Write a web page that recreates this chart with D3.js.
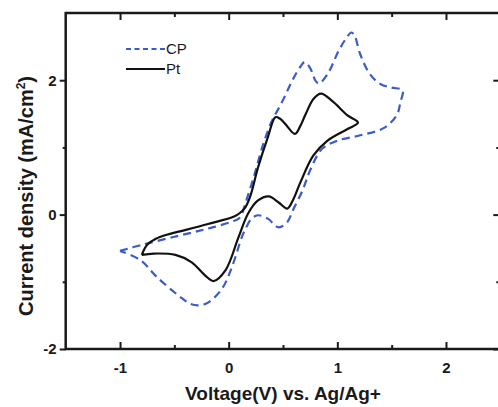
<!DOCTYPE html>
<html>
<head>
<meta charset="utf-8">
<script src="https://cdn.jsdelivr.net/npm/d3@7"></script>
<style>
  html, body { margin: 0; padding: 0; background: #fff; }
  svg { display: block; font-family: "Liberation Sans", Arial, sans-serif; }
</style>
</head>
<body>
<svg id="chart" width="498" height="407"></svg>
<script>
// ---- data ----
const cpVoltage = [-1.0, -0.8, -0.5, -0.22, 0.02, 0.1, 0.16, 0.24, 0.32, 0.4, 0.48, 0.6, 0.66, 0.7, 0.75, 0.8, 0.83, 0.91, 1.01, 1.08, 1.13, 1.16, 1.21, 1.3, 1.4, 1.5, 1.6, 1.58, 1.55, 1.43, 1.21, 1.0, 0.86, 0.75, 0.68, 0.59, 0.54, 0.46, 0.36, 0.27, 0.21, 0.15, 0.12, 0.03, -0.06, -0.19, -0.27, -0.35, -0.45, -0.66, -0.81, -1.0];
const cpCurrent = [-0.54, -0.45, -0.33, -0.22, -0.11, -0.05, 0.2, 0.61, 1.06, 1.4, 1.64, 2.04, 2.2, 2.27, 2.18, 1.99, 1.95, 2.09, 2.43, 2.62, 2.71, 2.66, 2.39, 2.09, 1.94, 1.89, 1.85, 1.67, 1.49, 1.29, 1.18, 1.1, 0.98, 0.66, 0.36, 0.06, -0.11, -0.19, -0.06, -0.01, -0.06, -0.23, -0.34, -0.78, -1.1, -1.31, -1.35, -1.33, -1.22, -0.93, -0.68, -0.54];

const ptVoltage = [-0.8, -0.75, -0.67, -0.57, -0.45, -0.19, 0.05, 0.1, 0.15, 0.2, 0.27, 0.36, 0.43, 0.47, 0.52, 0.61, 0.66, 0.71, 0.78, 0.85, 0.96, 1.09, 1.19, 1.09, 0.91, 0.78, 0.66, 0.59, 0.54, 0.46, 0.37, 0.27, 0.18, 0.09, -0.03, -0.14, -0.22, -0.34, -0.49, -0.69, -0.8];
const ptCurrent = [-0.6, -0.45, -0.36, -0.3, -0.25, -0.14, -0.03, 0.02, 0.1, 0.28, 0.7, 1.15, 1.45, 1.43, 1.35, 1.2, 1.32, 1.5, 1.72, 1.8, 1.68, 1.48, 1.37, 1.27, 1.1, 0.88, 0.48, 0.21, 0.09, 0.18, 0.27, 0.21, 0.02, -0.34, -0.83, -0.99, -0.9, -0.71, -0.6, -0.58, -0.6];

const xMajorTicks = [-1, 0, 1, 2];
const xMinorTicks = [-0.5, 0.5, 1.5];
const yMajorTicks = [-2, 0, 2];
const yMinorTicks = [-1, 1];

const seriesNames = ["CP", "Pt"];
const seriesColors = ["#3a5cc8", "#111111"];

const xTitle = "Voltage(V) vs. Ag/Ag+";
const yTitle = "Current density (mA/cm";

// ---- layout ----
const svg = d3.select("#chart");
const L = 65.7, R = 500.3, T = 13, B = 349;
const x = d3.scaleLinear().domain([-1.5, 2.5]).range([L, R]);
const y = d3.scaleLinear().domain([-2, 3]).range([B, T]);

const axisColor = "#1a1a1a";
const fmt = d => String(d);   // plain hyphen minus as in the reference

// curves
const line = d3.line()
  .x(d => x(d[0])).y(d => y(d[1]))
  .curve(d3.curveCatmullRom.alpha(0.5));

const cpData = cpVoltage.map((v, i) => [v, cpCurrent[i]]);
const ptData = ptVoltage.map((v, i) => [v, ptCurrent[i]]);

const plot = svg.append("g");
plot.append("path").datum(cpData)
  .attr("d", line).attr("fill", "none")
  .attr("stroke", seriesColors[0]).attr("stroke-width", 2.2)
  .attr("stroke-dasharray", "8,5");
plot.append("path").datum(ptData)
  .attr("d", line).attr("fill", "none")
  .attr("stroke", seriesColors[1]).attr("stroke-width", 2.2);

// axes
function styleAxis(g) {
  g.select(".domain").remove();
  g.selectAll("line").attr("stroke", axisColor).attr("stroke-width", 2);
  g.selectAll("text").attr("fill", "#1a1a1a").attr("font-weight", "bold")
    .attr("font-size", "15px").attr("font-family", "Liberation Sans, Arial, sans-serif");
}

// bottom: inward ticks
svg.append("g").attr("transform", `translate(0,${B})`)
  .call(d3.axisBottom(x).tickValues(xMajorTicks).tickSizeInner(-7).tickSizeOuter(0)
    .tickPadding(13).tickFormat(fmt))
  .call(styleAxis);
svg.append("g").attr("transform", `translate(0,${B})`)
  .call(d3.axisBottom(x).tickValues(xMinorTicks).tickSizeInner(-4).tickSizeOuter(0).tickFormat(""))
  .call(styleAxis);

// top: inward ticks
svg.append("g").attr("transform", `translate(0,${T})`)
  .call(d3.axisTop(x).tickValues(xMajorTicks).tickSizeInner(-7).tickSizeOuter(0).tickFormat(""))
  .call(styleAxis);
svg.append("g").attr("transform", `translate(0,${T})`)
  .call(d3.axisTop(x).tickValues(xMinorTicks).tickSizeInner(-4).tickSizeOuter(0).tickFormat(""))
  .call(styleAxis);

// left: outward ticks
svg.append("g").attr("transform", `translate(${L},0)`)
  .call(d3.axisLeft(y).tickValues(yMajorTicks).tickSizeInner(6).tickSizeOuter(0)
    .tickPadding(3).tickFormat(fmt))
  .call(styleAxis);
svg.append("g").attr("transform", `translate(${L},0)`)
  .call(d3.axisLeft(y).tickValues(yMinorTicks).tickSizeInner(3).tickSizeOuter(0).tickFormat(""))
  .call(styleAxis);

// right: inward ticks
svg.append("g").attr("transform", `translate(${R},0)`)
  .call(d3.axisRight(y).tickValues(yMajorTicks).tickSizeInner(-7).tickSizeOuter(0).tickFormat(""))
  .call(styleAxis);
svg.append("g").attr("transform", `translate(${R},0)`)
  .call(d3.axisRight(y).tickValues(yMinorTicks).tickSizeInner(-4).tickSizeOuter(0).tickFormat(""))
  .call(styleAxis);

// frame
svg.append("rect")
  .attr("x", L).attr("y", T).attr("width", R - L).attr("height", B - T)
  .attr("fill", "none").attr("stroke", axisColor).attr("stroke-width", 2.5);

// axis titles
svg.append("text")
  .attr("x", (L + R) / 2).attr("y", 400)
  .attr("text-anchor", "middle")
  .attr("font-weight", "bold").attr("font-size", "19px").attr("fill", "#1a1a1a")
  .text(xTitle);

const yt = svg.append("text")
  .attr("transform", "translate(33,196) rotate(-90)")
  .attr("text-anchor", "middle")
  .attr("font-weight", "bold").attr("font-size", "20px").attr("fill", "#1a1a1a");
yt.append("tspan").text(yTitle);
yt.append("tspan").attr("font-size", "12px").attr("dy", "-8").text("2");
yt.append("tspan").attr("dy", "8").text(")");

// legend
const legendY = [49, 69];
const legendDash = ["5,3.5", null];
seriesNames.forEach((name, i) => {
  const g = svg.append("g");
  g.append("line")
    .attr("x1", 126).attr("x2", 165).attr("y1", legendY[i]).attr("y2", legendY[i])
    .attr("stroke", seriesColors[i]).attr("stroke-width", i === 0 ? 2.2 : 1.8)
    .attr("stroke-dasharray", legendDash[i]);
  g.append("text")
    .attr("x", 166).attr("y", legendY[i]).attr("dy", "0.36em")
    .attr("font-size", "15px").attr("fill", "#1a1a1a")
    .text(name);
});
</script>
</body>
</html>
